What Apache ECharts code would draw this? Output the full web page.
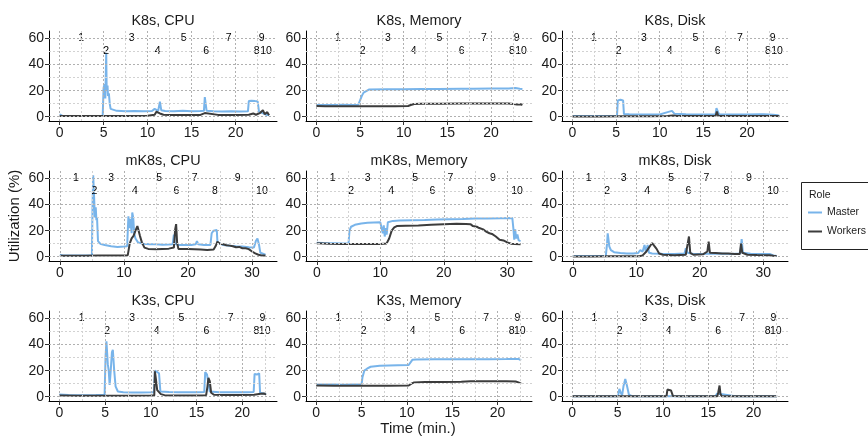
<!DOCTYPE html>
<html>
<head>
<meta charset="utf-8">
<script src="https://cdn.jsdelivr.net/npm/echarts@6/dist/echarts.min.js"></script>
<style>
  html, body { margin: 0; padding: 0; background: #fff; }
  #chart { width: 868px; height: 437px; }
</style>
</head>
<body>
<div id="chart"></div>
<script>
// ---- data: [time (min.), utilization (%)] ----
var k8sCpuMaster = [[0,1.8],[0.3,0.8],[1,0.6],[2,0.5],[3,0.6],[4,0.5],[4.9,0.6],[5.0,22],[5.1,25],[5.2,14],[5.3,49],[5.35,20],[5.45,24],[5.5,16],[5.6,18],[5.7,10],[5.8,6],[6.0,4.8],[6.5,4.5],[7.5,4.2],[8.5,4.4],[9.5,4.1],[10.5,4.3],[10.8,6],[11.0,5],[11.2,4.5],[11.4,11.5],[11.55,5],[12,4.4],[13,4.2],[14,4.5],[15,4.2],[16,4.3],[16.4,4.5],[16.5,15],[16.6,14],[16.7,4.6],[17.5,4.2],[18.5,4.0],[19.5,4.2],[20.5,4.0],[21.4,4.1],[21.5,12],[21.8,12.3],[22.0,11.5],[22.2,12],[22.5,11.8],[22.65,4],[23,3],[23.5,1.5],[23.8,1]];
var k8sCpuWorkers = [[0,0.6],[2,0.5],[4,0.6],[6,0.6],[8,0.6],[10,0.7],[10.8,1.5],[11.0,3.8],[11.2,4.5],[11.4,2.5],[11.6,3],[11.8,1.5],[12.5,1.3],[14,1.4],[16,1.4],[16.5,2.8],[16.7,1.5],[18,1.4],[20,1.4],[21.5,1.5],[22,2.5],[22.3,1.5],[22.8,3],[23.1,5],[23.3,2],[23.6,3.5],[23.8,1.2]];

var k8sMemMaster = [[0,9],[1,9],[2,9],[3,9.1],[4,9],[4.8,9.2],[5.0,10.5],[5.2,16],[5.4,18.5],[5.6,20],[6,20.8],[8,21],[10,21],[12,21.2],[14,21.3],[16.6,21.5],[18,21.4],[20,21.6],[22,21.7],[22.8,22],[23.3,21.4],[23.6,21.2]];
var k8sMemWorkers = [[0,8.2],[1,8],[3,8],[5,8.1],[7,8],[9,8.1],[10.5,8.2],[10.8,9],[11.2,9.8],[12,10],[14,10],[16.6,10.1],[18,10.1],[20,10.2],[22,10.1],[22.6,9.8],[23,9.3],[23.4,9.6],[23.6,9]];

var k8sDiskMaster = [[0,0.5],[2,0.5],[4,0.5],[5.1,0.6],[5.2,12.5],[5.5,13],[5.8,12.5],[5.9,2],[6.5,1.8],[8,1.6],[10,1.7],[10.9,3.5],[11.1,5],[11.4,4.5],[11.7,2.2],[13,1.8],[15,1.6],[16.4,1.8],[16.5,6.5],[16.7,6],[16.8,1.8],[18,1.6],[20,1.6],[21.5,1.8],[21.7,2.6],[21.9,1.8],[23,1.5],[23.5,1.2],[23.7,0.6]];
var k8sDiskWorkers = [[0,0.2],[3,0.2],[6,0.3],[9,0.3],[10.9,0.5],[11.1,1.6],[11.5,1],[12,0.5],[16.4,0.5],[16.55,4],[16.7,0.6],[19,0.5],[22,0.5],[23.5,0.5],[23.7,0.3]];

var mk8sCpuMaster = [[0,1.5],[0.5,1],[2,0.9],[4,1],[5.0,1],[5.1,40],[5.2,62.5],[5.35,45],[5.45,30],[5.6,38],[5.7,28],[5.8,30],[5.95,12],[6.3,10],[7,9],[8,8],[9,7.5],[10,7.8],[10.5,8],[10.7,31],[10.9,22],[11.0,29],[11.2,18],[11.3,34],[11.45,30],[11.6,18],[11.8,14],[12.2,11],[13,10],[14,9.5],[15,9.5],[16,9.2],[17,9.3],[17.6,9.5],[17.8,17],[17.95,10],[18.5,9],[19.5,9],[20.5,9],[21.2,9.5],[21.4,12],[21.6,9.5],[22.5,9],[23.5,9],[23.7,18],[24,20],[24.3,19],[24.5,20.5],[24.6,11],[25.5,9],[26.5,8.5],[27.5,8],[28.5,7.8],[29.5,7.2],[30.3,7],[30.6,12],[30.85,14],[31.1,9],[31.3,3],[31.6,2],[32.1,1.5]];
var mk8sCpuWorkers = [[0,0.8],[2,0.8],[4,0.8],[6,0.9],[8,0.9],[10,1],[10.6,1.2],[10.9,10],[11.2,14],[11.5,16],[11.8,20],[12.1,23.5],[12.3,22],[12.5,16],[12.8,11],[13.2,7],[13.8,6],[15,5.8],[16,6],[17,6.2],[17.8,7],[18,21],[18.15,25],[18.3,11],[18.5,6],[20,6],[21,5.8],[22,5.5],[23,5.2],[24,5.5],[24.3,8],[24.6,11.5],[25,10],[25.5,9.5],[26,8.8],[26.5,8.5],[27,8],[27.5,7.2],[28,7.5],[28.5,6.5],[29,6.5],[29.5,5.8],[30,4],[30.5,2.5],[31,1.5],[31.5,1],[32.1,1]];

var mk8sMemMaster = [[0,10.8],[1,10.5],[2,10.3],[3,10.3],[4,10.2],[5.0,10.3],[5.15,20],[5.4,23],[6,24.5],[7,25.5],[8,26],[9,26.3],[10,26.4],[10.3,26],[10.4,18],[10.55,24],[10.7,15.5],[10.85,22],[11,17],[11.2,26.5],[12,27.5],[13,27.8],[15,28],[17,28.2],[19,28.5],[21,28.8],[23,29],[25,29.3],[27,29.4],[29,29.6],[30.8,29.7],[31.0,20],[31.1,13],[31.25,21],[31.4,14],[31.6,17],[31.8,12.5],[32.1,12]];
var mk8sMemWorkers = [[0,10.3],[2,10],[4,9.8],[6,9.7],[8,9.8],[10,9.8],[11,10.2],[11.4,14],[11.8,20],[12.2,22.5],[12.6,23.5],[14,23.8],[16,24],[18,24.5],[20,25],[22,25.3],[23.5,25.2],[24.2,25],[24.6,23.5],[25.2,23],[25.6,22],[26.2,21],[26.6,19.5],[27.2,18],[27.6,17.5],[28.2,15.5],[28.8,13],[29.4,12.5],[30,11],[30.6,10],[31.2,9.8],[32.1,9.5]];

var mk8sDiskMaster = [[0,0.5],[2,0.5],[4,0.5],[5.2,0.6],[5.4,10],[5.5,18],[5.6,14],[5.75,8],[6,5],[6.5,3.5],[7.5,2.8],[8.5,2.5],[9.5,2.5],[10.3,2.8],[10.6,5],[11,4],[11.3,9],[11.5,4],[11.8,9],[12,3],[12.5,2.5],[14,2.2],[16,2],[17.6,2.5],[17.8,6.5],[18.1,3],[19,2],[21,2.2],[23,2.5],[25,2],[26.4,2.5],[26.6,13.5],[26.8,3],[28,2.2],[30,2],[31.1,2],[31.3,3.5],[31.6,1],[32.1,0.5]];
var mk8sDiskWorkers = [[0,0.2],[3,0.2],[6,0.3],[9,0.3],[10.5,0.4],[11,1],[11.6,4],[12,7],[12.5,10.5],[12.8,10],[13.2,6],[13.6,2.5],[14.2,1.5],[16,1.2],[17.8,1.5],[18.1,10],[18.3,15.5],[18.5,3],[19,1.5],[20.5,1.8],[21.2,4],[21.4,11.5],[21.6,3],[22.5,2.8],[23.5,2.5],[24.5,2.5],[25.5,2],[26.3,2],[26.5,10],[26.7,3],[27.5,1.5],[29,1.3],[31,1.2],[31.6,0.8],[32.1,0.5]];

var k3sCpuMaster = [[0,1.6],[1,1.3],[2,1.2],[3,1.2],[4,1.3],[4.95,1.4],[5.05,30],[5.15,42.5],[5.3,25],[5.4,20],[5.5,9],[5.6,18],[5.75,34],[5.85,36],[6.0,20],[6.15,8],[6.4,4],[7,3.5],[8,3.3],[9,3.3],[10,3.4],[10.35,3.5],[10.45,20],[10.6,18.5],[10.9,18],[11.05,4],[12,3.6],[13,3.5],[14,3.4],[15,3.5],[15.85,3.6],[15.95,19],[16.15,17],[16.35,18],[16.45,4],[17.5,3.5],[19,3.4],[20.5,3.5],[21.25,3.6],[21.35,17.5],[21.6,17],[21.85,18],[21.95,3],[22.3,2.5],[22.6,2]];
var k3sCpuWorkers = [[0,0.9],[2,0.8],[4,0.8],[6,0.8],[8,0.8],[10,0.9],[10.38,1],[10.45,19.5],[10.55,14],[10.7,5],[10.9,5.5],[11.1,2],[11.5,1.2],[13,1],[15,1],[16.05,1.2],[16.2,8],[16.3,14.5],[16.45,12],[16.6,3],[16.9,1.5],[18,1.3],[20,1.3],[21.3,1.5],[21.5,2.5],[22,2.2],[22.4,2.5],[22.6,1.5]];

var k3sMemMaster = [[0,9.4],[1,9.3],[2,9.3],[3,9.2],[4,9.3],[5.0,9.4],[5.1,15],[5.3,20],[5.6,21.5],[6,23],[7,23.8],[8,24],[9,24.2],[10.2,24.3],[10.4,25],[10.6,28.3],[11,28.6],[13,28.7],[15,28.7],[17,28.8],[19,28.8],[21,28.9],[22.3,29],[22.5,27.8],[22.6,28]];
var k3sMemWorkers = [[0,8.6],[2,8.4],[4,8.4],[6,8.4],[8,8.5],[10.2,8.6],[10.5,10],[10.8,11],[12,11.2],[14,11.3],[16,11.4],[17,11.8],[19,11.8],[21,11.8],[22,11.7],[22.3,11],[22.5,9.5],[22.6,10]];

var k3sDiskMaster = [[0,0.3],[2,0.3],[4,0.3],[5.05,0.4],[5.2,6],[5.35,3],[5.5,1],[5.65,8],[5.85,13.5],[6.05,8],[6.25,1.5],[6.6,0.4],[8,0.3],[10,0.3],[12,0.3],[14,0.3],[15.8,0.5],[16,2.5],[16.2,1],[18,0.3],[20,0.3],[21.4,0.5],[21.5,1],[21.7,0.4],[22.6,0.3]];
var k3sDiskWorkers = [[0,0.3],[2,0.3],[4,0.3],[6,0.3],[8,0.3],[10.4,0.4],[10.5,5.5],[10.7,4],[10.9,4.8],[11.1,0.6],[12,0.3],[14,0.3],[16,0.4],[16.1,3],[16.25,8.6],[16.35,2],[16.5,0.4],[18,0.3],[20,0.3],[22.6,0.3]];

// event marks (minutes) per cluster, labelled 1..10
var k8sEvents  = [2.45, 5.3, 8.2, 11.15, 14.1, 16.65, 19.2, 22.4, 22.95, 23.45];
var mk8sEvents = [2.5, 5.4, 8.0, 11.7, 15.5, 18.2, 21.05, 24.2, 27.75, 31.55];
var k3sEvents  = [2.44, 5.24, 7.97, 10.63, 13.36, 16.09, 18.74, 21.55, 22.2, 22.45];
var eventLevels = [60, 50];   // odd labels high, even labels low

// tick labels
var yTicks = [0, 20, 40, 60];
var xTicksShort = [0, 5, 10, 15, 20];
var xTicksLong = [0, 10, 20, 30];

var clusters = ['K8s', 'mK8s', 'K3s'];
var resources = ['CPU', 'Memory', 'Disk'];
var seriesData = {
    K8s:  { CPU: [k8sCpuMaster, k8sCpuWorkers],   Memory: [k8sMemMaster, k8sMemWorkers],   Disk: [k8sDiskMaster, k8sDiskWorkers] },
    mK8s: { CPU: [mk8sCpuMaster, mk8sCpuWorkers], Memory: [mk8sMemMaster, mk8sMemWorkers], Disk: [mk8sDiskMaster, mk8sDiskWorkers] },
    K3s:  { CPU: [k3sCpuMaster, k3sCpuWorkers],   Memory: [k3sMemMaster, k3sMemWorkers],   Disk: [k3sDiskMaster, k3sDiskWorkers] }
};

// per-row axis setup
var rowSetup = [
    { events: k8sEvents,  min: -1.2,  max: 24.7, ticks: xTicksShort, gridStep: 2.5 },
    { events: mk8sEvents, min: -1.7,  max: 33.9, ticks: xTicksLong,  gridStep: 5 },
    { events: k3sEvents,  min: -1.13, max: 23.8, ticks: xTicksShort, gridStep: 2.5 }
];

var FONT = 'Liberation Sans, Arial, Helvetica, sans-serif';
var MASTER = '#78b4ea';
var WORKERS = '#3c3c3c';
var colLeft = [49, 306, 562];
var colWidth = [228, 226, 226];
var rowTop = [31, 171, 311];
var rowHeight = 90;
var titleY = [21.5, 161.5, 301];

var grids = [], xAxes = [], yAxes = [], series = [], graphics = [];

function gridLineData(row) {
    var out = [];
    var setup = rowSetup[row];
    var major = { type: [2, 2], color: '#b0b0b0', width: 1 };
    var minor = { type: [2, 2], color: '#d2d2d2', width: 1 };
    for (var v = 0; v <= setup.max; v += setup.gridStep) {
        var isMajor = setup.ticks.indexOf(v) >= 0;
        out.push({ xAxis: v, lineStyle: isMajor ? major : minor });
    }
    for (var h = 0; h <= 60; h += 10) {
        out.push({ yAxis: h, lineStyle: yTicks.indexOf(h) >= 0 ? major : minor });
    }
    return out;
}

clusters.forEach(function (cluster, r) {
    var setup = rowSetup[r];
    resources.forEach(function (res, c) {
        var idx = grids.length;
        grids.push({ left: colLeft[c], top: rowTop[r], width: colWidth[c], height: rowHeight });

        xAxes.push({
            type: 'value', gridIndex: idx, min: setup.min, max: setup.max,
            axisLine: { show: true, onZero: false, lineStyle: { color: '#000', width: 1 } },
            axisTick: { show: true, length: 4, customValues: setup.ticks, lineStyle: { color: '#333' } },
            axisLabel: { customValues: setup.ticks, fontSize: 14, color: '#1a1a1a', fontFamily: FONT, margin: 5 },
            splitLine: { show: false }
        });
        yAxes.push({
            type: 'value', gridIndex: idx, min: -3.3, max: 65.8,
            axisLine: { show: true, onZero: false, lineStyle: { color: '#000', width: 1 } },
            axisTick: { show: true, length: 4, customValues: yTicks, lineStyle: { color: '#333' } },
            axisLabel: { customValues: yTicks, fontSize: 14, color: '#1a1a1a', fontFamily: FONT, margin: 5 },
            splitLine: { show: false }
        });

        // dotted background grid
        series.push({
            type: 'line', xAxisIndex: idx, yAxisIndex: idx, data: [], z: 1, silent: true,
            markLine: { silent: true, symbol: ['none', 'none'], label: { show: false },
                        animation: false, data: gridLineData(r) }
        });

        var pair = seriesData[cluster][res];
        series.push({
            name: 'Master', type: 'line', xAxisIndex: idx, yAxisIndex: idx, data: pair[0],
            showSymbol: false, color: MASTER, lineStyle: { width: 2, color: MASTER }, z: 2
        });
        series.push({
            name: 'Workers', type: 'line', xAxisIndex: idx, yAxisIndex: idx, data: pair[1],
            showSymbol: false, color: WORKERS, lineStyle: { width: 2, color: WORKERS }, z: 3
        });

        // numbered event labels
        series.push({
            type: 'scatter', xAxisIndex: idx, yAxisIndex: idx, silent: true, z: 4,
            symbolSize: 1, itemStyle: { color: 'rgba(0,0,0,0)' },
            data: setup.events.map(function (t, i) { return [t, eventLevels[i % 2], i + 1]; }),
            label: { show: true, position: 'inside', fontSize: 10.5, color: '#000', fontFamily: FONT,
                     textBorderWidth: 0, opacity: 1,
                     formatter: function (p) { return String(p.value[2]); } }
        });

        graphics.push({
            type: 'text', x: colLeft[c] + colWidth[c] / 2, y: titleY[r],
            style: { text: cluster + ', ' + res, fill: '#1a1a1a', font: '14.4px ' + FONT,
                     textAlign: 'center', textVerticalAlign: 'middle' }
        });
    });
});

// axis titles
graphics.push({
    type: 'text', x: 15, y: 216, rotation: Math.PI / 2,
    style: { text: 'Utilization (%)', fill: '#1a1a1a', font: '15px ' + FONT, textAlign: 'center', textVerticalAlign: 'middle' }
});
graphics.push({
    type: 'text', x: 418, y: 429,
    style: { text: 'Time (min.)', fill: '#1a1a1a', font: '15px ' + FONT, textAlign: 'center', textVerticalAlign: 'middle' }
});

// legend frame and title
graphics.push({
    type: 'rect', shape: { x: 801.5, y: 182.5, width: 90, height: 67 }, z: 0,
    style: { fill: '#fff', stroke: '#222', lineWidth: 1 }
});
graphics.push({
    type: 'text', x: 809, y: 195,
    style: { text: 'Role', fill: '#1a1a1a', font: '10.5px ' + FONT, textVerticalAlign: 'middle' }
});

var chart = echarts.init(document.getElementById('chart'), null, { renderer: 'canvas' });
chart.setOption({
    animation: false,
    backgroundColor: '#fff',
    textStyle: { fontFamily: FONT },
    grid: grids,
    xAxis: xAxes,
    yAxis: yAxes,
    legend: {
        data: ['Master', 'Workers'], orient: 'vertical', left: 808, top: 207,
        padding: 0, itemGap: 8, itemWidth: 14, itemHeight: 2, icon: 'rect',
        textStyle: { fontSize: 10.5, color: '#1a1a1a', fontFamily: FONT }, z: 5
    },
    graphic: graphics,
    series: series
});
</script>
</body>
</html>
